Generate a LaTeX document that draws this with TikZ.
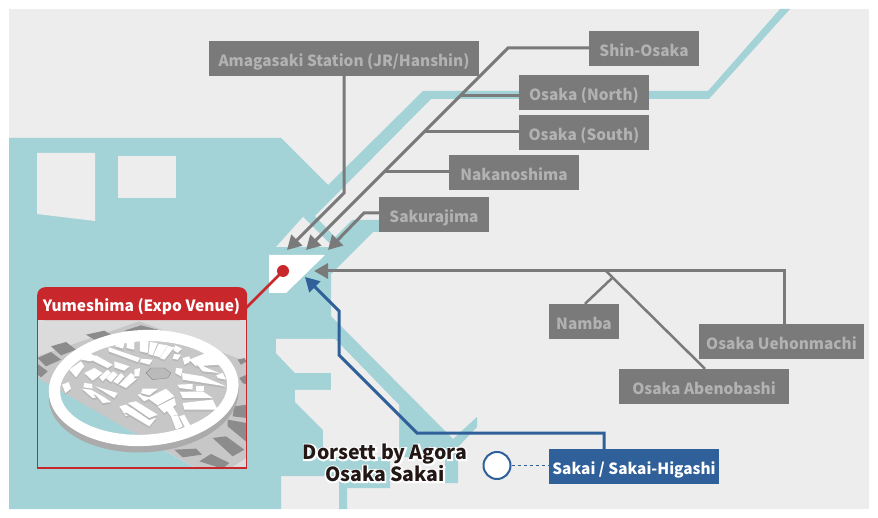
\documentclass[tikz,border=0pt]{standalone}
\usepackage{fontspec}
\usepackage{xcolor}
\setmainfont{Noto Sans CJK JP}
\usetikzlibrary{arrows.meta}
\definecolor{map-land}{RGB}{237, 237, 237}
\definecolor{map-water}{RGB}{163, 211, 215}
\definecolor{map-gray0}{RGB}{122, 122, 122}
\definecolor{map-gray1}{RGB}{178, 178, 178}
\definecolor{map-blue}{RGB}{47, 96, 153}
\definecolor{map-red}{RGB}{200, 40, 44}
\definecolor{map-ink}{RGB}{35, 24, 21}
\newcommand{\halotext}[1]{\rlap{\special{pdf:code q 2 Tr 3 w 1 1 1 RG 1 1 1 rg}#1\special{pdf:code Q}}#1}
\tikzset{
  stationbox/.style={fill=map-gray0, text=map-gray1, font=\bfseries\fontsize{15.4}{16}\selectfont, minimum height=35pt, inner sep=0pt, text height=16pt, text depth=0pt},
  railline/.style={draw=map-gray0, line width=3pt},
  railarrow/.style={railline, -{Triangle[length=14pt, width=15pt]}},
  bluearrow/.style={draw=map-blue, line width=3pt, -{Triangle[length=14pt, width=15pt]}},
  bldgtop/.style={fill=white},
  bldgside/.style={fill=black!28},
}
\begin{document}
\begin{tikzpicture}[x=1pt, y=-1pt]
  \useasboundingbox (0,0) rectangle (878,518);
  \fill[map-land] (9,9) rectangle (869,509);

  % water
  \fill[map-water] (9,138) -- (281,138) -- (328,185) -- (423,91) -- (708,91) -- (780,9) -- (790,9) -- (709,99) -- (431,99)
    -- (315,216) -- (335,237) -- (352,220) -- (400,220) -- (400,232) -- (373,232) -- (331,274) -- (331,316)
    -- (453,439) -- (477,417) -- (477,427) -- (458,447) -- (458,483) -- (445,483) -- (445,457) -- (390,457)
    -- (390,488) -- (347,488) -- (347,509) -- (339,509) -- (339,476) -- (281,476) -- (281,509) -- (9,509) -- cycle;

  % land on the water
  \fill[map-land] (37,153) -- (95,153) -- (95,221) -- (37,214) -- cycle;
  \fill[map-land] (118,156) rectangle (176,198);
  \fill[map-land] (276,247) -- (303,217) -- (333,247) -- cycle;
  \fill[map-land] (276,339) -- (335,339) -- (399,405) -- (399,457) -- (323,457) -- (323,430) -- (295,402) -- (295,390)
    -- (331,390) -- (331,373) -- (295,373) -- (276,353) -- cycle;
  \fill[white] (269,255) -- (325,255) -- (286,293) -- (269,293) -- cycle;

  \coordinate (hotel dot) at (283,271);
  \coordinate (tip amagasaki) at (287,250);
  \coordinate (tip shin) at (306,250);
  \coordinate (tip sakura) at (328,250);
  \coordinate (tip south) at (314,271);
  \coordinate (tip sakai) at (305,277);

  \node[stationbox, minimum width=270pt] (amagasaki) at (344,58.5) {Amagasaki Station (JR/Hanshin)};
  \node[stationbox, minimum width=110pt] (shin) at (644,48.5) {Shin-Osaka};
  \node[stationbox, minimum width=130pt] (north) at (584,92.5) {Osaka (North)};
  \node[stationbox, minimum width=130pt] (south) at (584,132.5) {Osaka (South)};
  \node[stationbox, minimum width=130pt] (nakano) at (514,172.5) {Nakanoshima};
  \node[stationbox, minimum width=110pt] (sakura) at (434,214.5) {Sakurajima};
  \node[stationbox, minimum width=70pt] (namba) at (584,321.5) {Namba};
  \node[stationbox, minimum width=165pt] (uehon) at (781.5,341.5) {Osaka Uehonmachi};
  \node[stationbox, minimum width=170pt] (abeno) at (704,386.5) {Osaka Abenobashi};
  \node[stationbox, minimum width=170pt, fill=map-blue, text=white] (sakai) at (634,466.5) {Sakai / Sakai-Higashi};

  % lines from the north
  \coordinate (amagasaki bend) at (344,193);
  \coordinate (shin bend) at (508,48);
  \coordinate (north join) at (460,95.5);
  \coordinate (south join) at (424,132);
  \coordinate (nakano join) at (384,172);
  \coordinate (sakura bend) at (364,213);
  \draw[railarrow] (amagasaki.south -| amagasaki bend) -- (amagasaki bend) -- (tip amagasaki);
  \draw[railarrow] (shin.west |- shin bend) -- (shin bend) -- (tip shin);
  \draw[railline] (north.west |- north join) -- (north join);
  \draw[railline] (south.west |- south join) -- (south join);
  \draw[railline] (nakano.west |- nakano join) -- (nakano join);
  \draw[railarrow] (sakura.west |- sakura bend) -- (sakura bend) -- (tip sakura);

  % lines from the south east
  \coordinate (uehon bend) at (784,271);
  \coordinate (abeno join) at (606,271);
  \coordinate (namba join) at (612.6,277.6);
  \draw[railarrow] (uehon.north -| uehon bend) -- (uehon bend) -- (tip south);
  \draw[railline, line width=2.5pt] (abeno.north) ++(1,0) -- (abeno join);
  \draw[railline, line width=2.5pt] (namba.north) ++(1,0) -- (namba join);

  % blue route and the hotel
  \coordinate (sakai up) at (604,433);
  \coordinate (sakai left) at (417,433);
  \coordinate (sakai low) at (339,355);
  \coordinate (sakai high) at (339,311);
  \draw[bluearrow] (sakai.north -| sakai up) -- (sakai up) -- (sakai left) -- (sakai low) -- (sakai high) -- (tip sakai);
  \node[circle, draw=map-blue, fill=white, line width=2pt, minimum size=27pt, inner sep=0pt] (hotel) at (497,465.5) {};
  \draw[map-blue, thin, dashed] (hotel) -- (sakai.west |- hotel);
  \node[align=center, text=map-ink, font=\bfseries\fontsize{19.5}{22}\selectfont, inner sep=0pt] (dorsett) at (385,463)
    {\halotext{Dorsett by Agora}\\\halotext{Osaka Sakai}};

  % venue card
  \fill[map-red] (283,271) circle[radius=6pt];
  \coordinate (card edge) at (246,308);
  \draw[map-red, line width=2.5pt] (hotel dot) -- (card edge);
  \begin{scope}
    \clip (38,320) rectangle (247,468);
    \fill[black!14] (38,320) rectangle (247,468);
    \begin{scope}[shift={(36,318)}, x=0.3333pt, y=-0.3333pt]
      \fill[black!22] (5,115) -- (310,10) -- (630,130) -- (630,420) -- (585,450) -- (480,450) -- (5,180) -- cycle;
      \fill[map-water] (5,180) -- (480,452) -- (5,452) -- cycle;
      \foreach \xa/\ya/\xb/\yb/\xc/\yc/\xd/\yd in {
        45/85/90/72/120/95/75/112, 150/50/205/38/225/50/175/65, 265/38/315/22/365/35/320/42,
        5/120/45/102/75/125/30/145, 5/138/35/160/15/178/5/170, 605/125/625/120/632/130/615/140,
        610/180/632/170/632/200/620/195, 595/265/632/260/632/300/590/295, 575/305/632/315/632/372/575/325,
        530/360/570/355/625/395/590/415, 415/395/480/392/498/410/440/418, 490/430/525/408/580/435/560/452}
        \fill[black!45] (\xa,\ya) -- (\xb,\yb) -- (\xc,\yc) -- (\xd,\yd) -- cycle;
      % the ring, raised
      \fill[black!33, rotate around={3:(323,229)}] (323,229) circle[x radius=285, y radius=174];
      \fill[black!33, rotate around={3:(323,211)}] (323,211) circle[x radius=285, y radius=174];
      \begin{scope}
        \clip[rotate around={3:(323,210)}] (323,210) circle[x radius=251, y radius=140];
        \fill[black!22] (0,0) rectangle (650,460);
        \fill[map-water] (5,180) -- (480,452) -- (5,452) -- cycle;
      \end{scope}
      \foreach \xa/\ya/\xb/\yb/\xc/\yc/\xd/\yd in {
        238/80/265/72/262/92/238/85, 272/72/295/70/295/95/272/90, 312/68/338/70/335/105/312/100,
        342/72/365/75/350/112/338/108, 368/78/395/82/372/118/352/112, 395/84/415/88/385/125/372/120,
        418/82/438/92/425/105/412/96, 415/108/435/110/425/125/410/122, 218/88/312/120/305/132/218/100,
        315/122/350/125/340/140/312/132, 160/105/185/118/165/130/135/125, 180/112/230/140/215/150/165/125,
        235/130/280/145/265/158/235/148, 100/155/135/130/145/145/120/178, 145/165/175/150/200/165/170/188,
        190/178/215/155/225/165/200/190, 210/180/232/160/245/170/225/192, 232/190/255/165/265/175/245/198,
        250/200/285/165/305/180/270/210, 295/155/312/150/310/175/295/175, 78/200/98/192/105/212/88/225,
        145/195/168/198/170/212/142/208, 138/212/165/215/198/235/170/240, 178/205/200/212/245/225/235/240,
        172/222/200/235/225/252/200/255, 250/265/270/260/300/280/270/295, 265/280/290/270/360/300/340/325,
        275/255/300/250/365/290/340/300, 305/230/335/225/345/240/325/250, 320/212/365/212/340/232/315/225,
        335/240/390/212/415/235/365/262, 365/265/415/240/420/260/385/285, 390/275/410/265/425/290/405/295,
        405/295/425/292/440/325/420/335, 430/295/445/290/470/335/455/345, 425/200/470/198/470/215/430/210,
        480/205/505/205/505/220/480/220, 432/222/500/220/530/240/440/240, 440/255/530/245/545/275/445/275,
        420/150/440/152/435/175/418/165, 438/165/500/175/570/205/440/185, 440/120/460/115/465/130/445/140,
        460/125/510/105/550/140/480/145, 540/170/560/165/570/185/545/180, 480/135/525/155/550/165/500/160}{
        \fill[bldgside] (\xa,\ya+6) -- (\xb,\yb+6) -- (\xc,\yc+6) -- (\xd,\yd+6) -- cycle;
        \fill[bldgtop] (\xa,\ya) -- (\xb,\yb) -- (\xc,\yc) -- (\xd,\yd) -- cycle;
      }
      \fill[black!27, draw=black!45] (330,165) -- (345,150) -- (385,150) -- (405,165) -- (395,180) -- (350,185) -- cycle;
      \fill[white, even odd rule, rotate around={3:(323,210)}] (323,210) circle[x radius=285, y radius=174] circle[x radius=251, y radius=140];
      \fill[white] (340,355) -- (375,348) -- (380,365) -- (345,370) -- cycle;
    \end{scope}
  \end{scope}
  \draw[map-red, line width=1.2pt] (37.6,318) rectangle (246.6,468);
  \node[fill=map-red, minimum width=210pt, minimum height=33pt, inner sep=0pt, rounded corners=8pt, anchor=north west] (yumeshima) at (37,287) {};
  \fill[map-red] (37,305) rectangle (247,320);
  \node[text=white, font=\bfseries\fontsize{15.5}{16}\selectfont, inner sep=0pt, text height=16pt, text depth=0pt] (yumeshima label) at (141.5,304) {Yumeshima (Expo Venue)};
\end{tikzpicture}
\end{document}
